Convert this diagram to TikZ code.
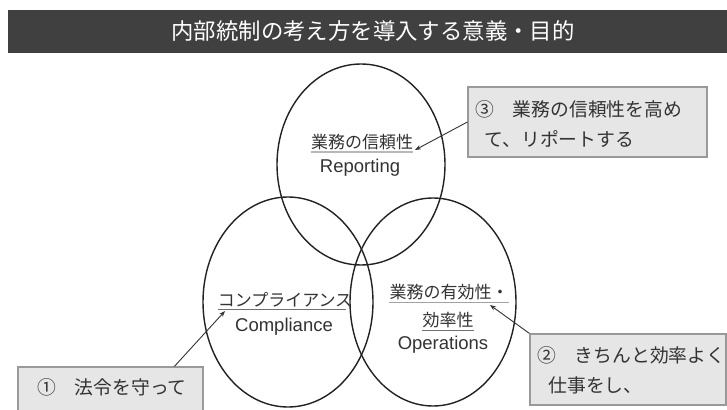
\documentclass[tikz,border=0pt]{standalone}
\usepackage{fontspec}
\setmainfont{Noto Sans CJK JP}
\newfontfamily\lat{Liberation Sans}
\usetikzlibrary{arrows.meta,calc}
\definecolor{barcol}{HTML}{404040}
\definecolor{boxfill}{HTML}{E6E6E6}
\definecolor{boxline}{HTML}{999999}
\definecolor{ink}{HTML}{333333}
\definecolor{ringcol}{HTML}{222222}
\tikzset{
  ring/.style={draw=ringcol, line width=1.4pt},
  jlabel/.style={text=ink, inner sep=0pt, font=\fontsize{17}{19}\selectfont},
  elabel/.style={text=ink, inner sep=0pt, font=\lat\fontsize{18.5}{20}\selectfont},
  uline/.style={draw=ink!70, line width=0.8pt},
  notebox/.style={fill=boxfill, draw=boxline, line width=1.2pt, inner sep=0pt},
  notetext/.style={text=ink, inner sep=0pt, anchor=north west, align=left,
     font=\fontsize{18.8}{30}\selectfont},
  pointer/.style={draw=ink, line width=0.9pt, -{Stealth[length=6pt,width=4.5pt]}}
}
\begin{document}
\begin{tikzpicture}[x=1pt,y=-1pt]
\useasboundingbox (0,0) rectangle (727,409);
\clip (0,0) rectangle (727,409);
\fill[white] (0,0) rectangle (727,409);
% title bar
\node[fill=barcol, minimum width=719pt, minimum height=43.5pt, inner sep=0pt, anchor=north west] (bar) at (8,9.5) {};
\node[text=white, inner sep=0pt, font=\fontsize{22.4}{24}\selectfont] (title) at (373,31) {内部統制の考え方を導入する意義・目的};
% circles
\draw[ring] (361,164.5) ellipse [x radius=84, y radius=100.5];
\draw[ring] (288,302) ellipse [x radius=85, y radius=105];
\draw[ring] (433,302) ellipse [x radius=83, y radius=104];
% labels
\node[jlabel] (rep) at (362,142) {業務の信頼性};
\draw[uline, draw=ink!35, line width=1.2pt] ($(rep.south west)+(0,2)$) -- ($(rep.south east)+(0,2)$);
\node[elabel] (repE) at (360,168) {Reporting};
\node[jlabel] (com) at (285,300) {コンプライアンス};
\draw[uline] ($(com.south west)+(0,2)$) -- ($(com.south east)+(-6,2)$);
\node[elabel] (comE) at (284,327) {Compliance};
\node[jlabel] (ope) at (449,292) {業務の有効性・};
\draw[uline, draw=ink!45, line width=1pt] ($(ope.south west)+(0,2)$) -- ($(ope.south east)+(0,2)$);
\node[jlabel] (ope2) at (448,320) {効率性};
\draw[uline] ($(ope2.south west)+(0,2)$) -- ($(ope2.south east)+(0,2)$);
\node[elabel] (opeE) at (443,345) {Operations};
% boxes
\node[notebox, minimum width=239pt, minimum height=70pt] (b3) at (587.5,122) {};
\node[notetext] (t3) at (475,100) {③　業務の信頼性を高め\\\hspace{0.5em}て、リポートする};
\node[notebox, minimum width=196pt, minimum height=71pt] (b2) at (628,369.5) {};
\node[notetext] (t2) at (537,346) {②　きちんと効率よく\\\hspace{0.6em}仕事をし、};
\node[notebox, minimum width=185pt, minimum height=50pt] (b1) at (110.5,392) {};
\node[notetext] (t1) at (37,378) {①　法令を守って};
% pointers
\coordinate (p3) at (415,150);
\coordinate (p2) at (490,305);
\coordinate (p1) at (225,311);
\coordinate (s1) at ($(b1.north west)+(157,0)$);
\draw[pointer] (b3.west) -- (p3);
\draw[pointer] (b2.north west) -- (p2);
\draw[pointer] (s1) -- (p1);
\end{tikzpicture}
\end{document}
